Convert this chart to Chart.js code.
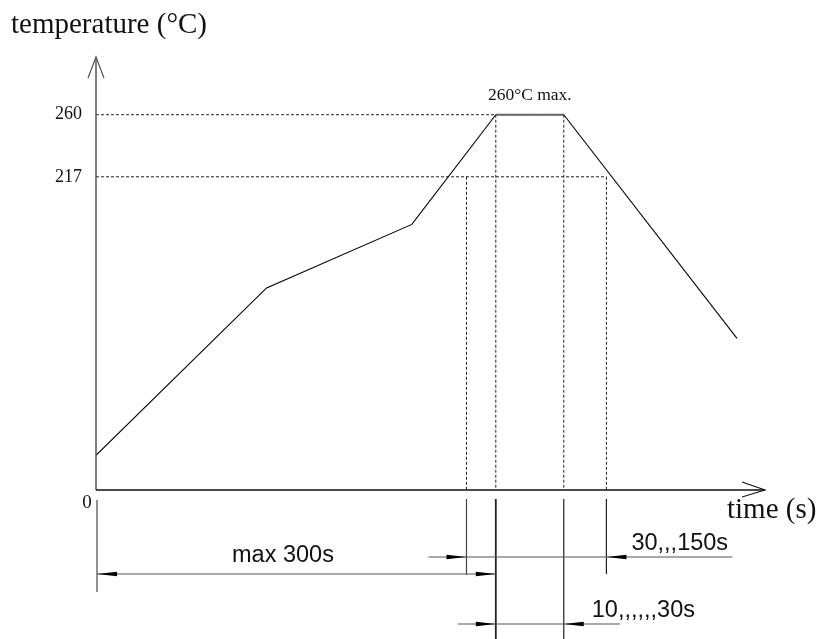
<!DOCTYPE html>
<html>
<head>
<meta charset="utf-8">
<script src="https://cdn.jsdelivr.net/npm/chart.js@4.4.1/dist/chart.umd.min.js"></script>
<style>
  html, body { margin: 0; padding: 0; background: #fff; }
  #wrap { width: 821px; height: 639px; }
</style>
</head>
<body>
<div id="wrap"><canvas id="c" width="821" height="639"></canvas></div>
<script>
const timeS = [0, 128, 237, 300, 351, 481];      // time (s) of profile vertices
const tempC = [24, 140, 184, 260, 260, 105];      // temperature (°C) at vertices
const levelTicks = [217, 260];                    // y tick labels
const markerTimes = [278, 300, 351, 383];         // dashed marker times (s)
const markerLevels = [217, 260, 260, 217];        // level each marker rises to
const dimLabels = ["max 300s", "30,,,150s", "10,,,,,,30s"];
const peakLabel = "260°C max.";
const yTitle = "temperature (°C)";
const xTitle = "time (s)";
const originLabel = "0";

const SERIF = '"Liberation Serif", "Times New Roman", serif';
const SANS = '"Liberation Sans", Arial, sans-serif';

const profile = timeS.map((t, i) => ({ x: t, y: tempC[i] }));

const datasets = [{
  data: profile,
  borderColor: '#000',
  borderWidth: 1.1,
  pointRadius: 0,
  segment: {
    borderColor: ctx => (tempC[ctx.p0DataIndex] === tempC[ctx.p1DataIndex] ? '#666' : '#000'),
    borderWidth: ctx => (tempC[ctx.p0DataIndex] === tempC[ctx.p1DataIndex] ? 2.2 : 1.1)
  },
  order: 0
}];

// horizontal dashed reference levels from the axis to the furthest marker at that level
levelTicks.forEach(lv => {
  const tMax = Math.max(...markerTimes.filter((t, i) => markerLevels[i] === lv));
  datasets.push({ data: [{ x: 0, y: lv }, { x: tMax, y: lv }], borderColor: '#222', borderWidth: 1, borderDash: [3, 2], pointRadius: 0, order: 2 });
});
// vertical dashed markers
markerTimes.forEach((t, i) => {
  datasets.push({ data: [{ x: t, y: markerLevels[i] }, { x: t, y: 0 }], borderColor: '#222', borderWidth: 1, borderDash: [3, 2], pointRadius: 0, order: 2 });
});

const drawPlugin = {
  id: 'drawing',
  afterDraw(chart) {
    const { ctx, chartArea: { left, right, top, bottom }, scales: { x, y } } = chart;
    ctx.save();
    // y axis with open arrow
    ctx.strokeStyle = '#555'; ctx.lineWidth = 1.5;
    ctx.beginPath(); ctx.moveTo(left, bottom); ctx.lineTo(left, top); ctx.stroke();
    ctx.lineWidth = 1.2;
    ctx.beginPath(); ctx.moveTo(left - 8, top + 21); ctx.lineTo(left, top); ctx.lineTo(left + 8, top + 21); ctx.stroke();
    // x axis with open arrow
    ctx.strokeStyle = '#111'; ctx.lineWidth = 1.5;
    ctx.beginPath(); ctx.moveTo(left, bottom); ctx.lineTo(right, bottom); ctx.stroke();
    ctx.lineWidth = 1.1;
    ctx.beginPath(); ctx.moveTo(right - 23, bottom - 8); ctx.lineTo(right, bottom); ctx.lineTo(right - 23, bottom + 7); ctx.stroke();

    // texts
    ctx.fillStyle = '#111';
    ctx.textBaseline = 'alphabetic';
    ctx.textAlign = 'left';
    ctx.font = '29px ' + SERIF;
    ctx.fillText(yTitle, 11, 33);
    ctx.fillText(xTitle, right - 38, bottom + 28);
    ctx.font = '19px ' + SERIF;
    ctx.textAlign = 'center';
    ctx.fillText(originLabel, left - 9, bottom + 18);
    ctx.font = '17.5px ' + SERIF;
    const pk = profile.filter(p => p.y === Math.max(...tempC));
    const pkX = (x.getPixelForValue(pk[0].x) + x.getPixelForValue(pk[pk.length - 1].x)) / 2;
    ctx.fillText(peakLabel, pkX, y.getPixelForValue(Math.max(...tempC)) - 15);

    // dimension extension lines below the axis
    const mx = markerTimes.map(t => x.getPixelForValue(t));
    const ext = (xx, y0, y1, w, c) => { ctx.strokeStyle = c; ctx.lineWidth = w; ctx.beginPath(); ctx.moveTo(xx, y0); ctx.lineTo(xx, y1); ctx.stroke(); };
    ext(left + 1, bottom + 10, bottom + 102, 1.3, '#555');
    ext(mx[0], bottom + 9, bottom + 85, 1.2, '#444');
    ext(mx[1], bottom + 9, bottom + 150, 1.8, '#222');
    ext(mx[2], bottom + 9, bottom + 150, 1.2, '#222');
    ext(mx[3], bottom + 9, bottom + 84, 1.2, '#222');

    const hline = (x0, x1, yy) => { ctx.strokeStyle = '#555'; ctx.lineWidth = 1.2; ctx.beginPath(); ctx.moveTo(x0, yy); ctx.lineTo(x1, yy); ctx.stroke(); };
    const arrow = (tip, yy, dir) => {
      ctx.fillStyle = '#000';
      ctx.beginPath(); ctx.moveTo(tip, yy); ctx.lineTo(tip - 20 * dir, yy - 2.2); ctx.lineTo(tip - 20 * dir, yy + 2.2); ctx.closePath(); ctx.fill();
    };
    // 30..150s
    const y1 = bottom + 67;
    hline(mx[0] - 38, mx[3] + 126, y1);
    arrow(mx[0], y1, 1); arrow(mx[3], y1, -1);
    // max 300s
    const y2 = bottom + 84;
    hline(left + 1, mx[1], y2);
    arrow(left + 1, y2, -1); arrow(mx[1], y2, 1);
    // 10..30s
    const y3 = bottom + 134;
    hline(mx[1] - 38, mx[2] + 56, y3);
    arrow(mx[1], y3, 1); arrow(mx[2], y3, -1);

    ctx.fillStyle = '#111';
    ctx.font = '23.5px ' + SANS;
    ctx.textAlign = 'left';
    ctx.fillText(dimLabels[0], 232, bottom + 72);
    ctx.fillText(dimLabels[1], mx[3] + 25, bottom + 60);
    ctx.fillText(dimLabels[2], mx[2] + 28, bottom + 127);
    ctx.restore();
  }
};

new Chart(document.getElementById('c'), {
  type: 'line',
  data: { datasets },
  options: {
    responsive: false,
    animation: false,
    events: [],
    layout: { padding: { left: 0, top: 57, right: 56, bottom: 149 } },
    plugins: { legend: { display: false }, tooltip: { enabled: false }, title: { display: false } },
    scales: {
      x: {
        type: 'linear', min: 0, max: 502, display: false
      },
      y: {
        type: 'linear', min: 0, max: 300,
        grid: { display: false, drawTicks: false },
        border: { display: false },
        afterFit: s => { s.width = 96; },
        afterBuildTicks: s => { s.ticks = levelTicks.map(v => ({ value: v })); },
        ticks: { padding: 14, color: '#111', font: { family: SERIF, size: 18 } }
      }
    }
  },
  plugins: [drawPlugin]
});
</script>
</body>
</html>
